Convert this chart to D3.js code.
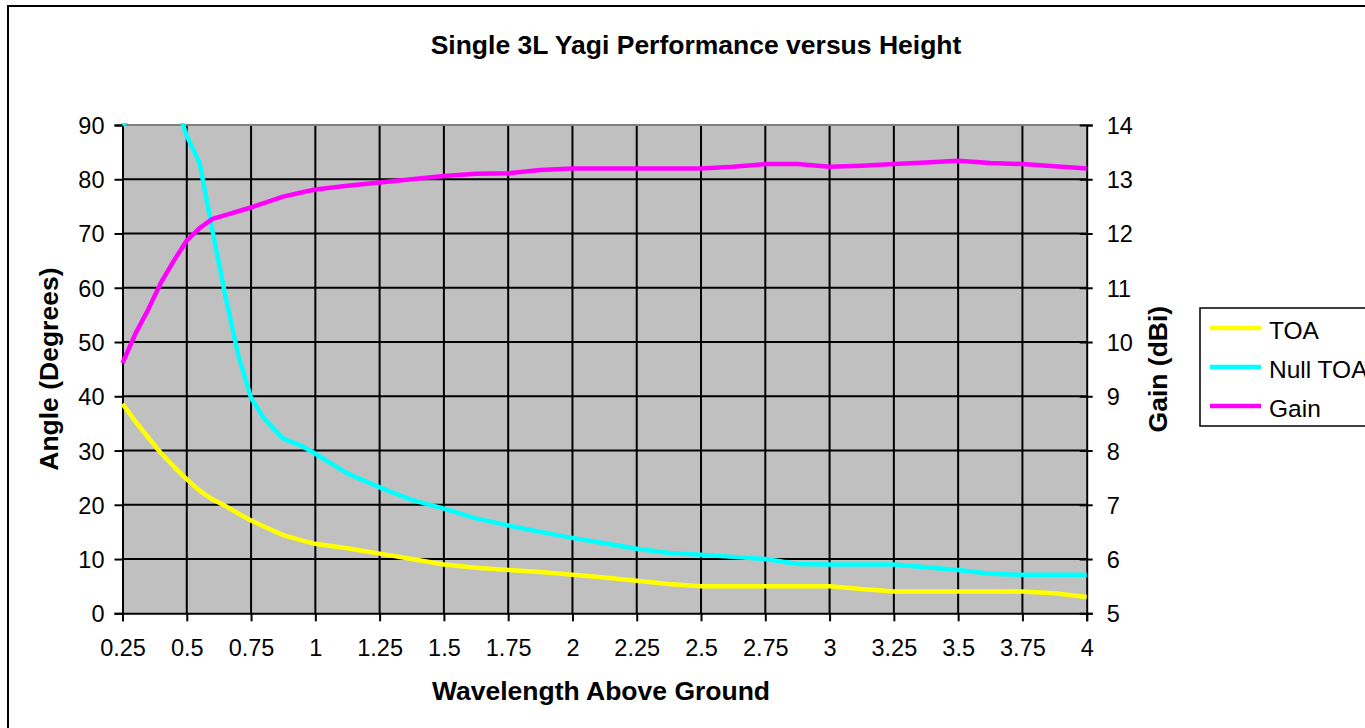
<!DOCTYPE html>
<html>
<head>
<meta charset="utf-8">
<script src="https://cdn.jsdelivr.net/npm/d3@7"></script>
<style>
  html, body { margin: 0; padding: 0; background: #fff; }
  svg { display: block; font-family: "Liberation Sans", Arial, sans-serif; }
</style>
</head>
<body>
<script>
// ---- data ----
const heights = [0.25, 0.3, 0.35, 0.4, 0.45, 0.5, 0.55, 0.6, 0.65, 0.7, 0.75, 0.8, 0.875, 0.95, 1.0,
  1.125, 1.25, 1.375, 1.5, 1.625, 1.75, 1.875, 2.0, 2.125, 2.25, 2.375, 2.5, 2.625, 2.75, 2.875,
  3.0, 3.125, 3.25, 3.375, 3.5, 3.625, 3.75, 3.875, 4.0];
const toa = [38.6, 35.4, 32.4, 29.5, 27.0, 24.7, 22.6, 21.0, 19.8, 18.4, 17.1, 16.0, 14.4, 13.4, 12.8,
  12.0, 11.0, 10.0, 9.0, 8.4, 8.0, 7.6, 7.1, 6.6, 6.0, 5.4, 5.0, 5.0, 5.0, 5.0,
  5.0, 4.5, 4.0, 4.0, 4.0, 4.0, 4.0, 3.7, 3.0];
const nullToa = [90, 92, 100, 100, 95, 88, 83, 70.5, 58.5, 47.6, 39.7, 35.9, 32.2, 30.8, 29.4,
  25.8, 23.2, 20.9, 19.3, 17.5, 16.2, 15.0, 13.9, 12.9, 11.9, 11.1, 10.8, 10.4, 10.0, 9.1,
  9.0, 9.0, 9.0, 8.5, 8.0, 7.3, 7.1, 7.1, 7.1];
const gain = [9.61, 10.15, 10.6, 11.1, 11.5, 11.87, 12.1, 12.27, 12.34, 12.41, 12.48, 12.56, 12.68, 12.76, 12.81,
  12.88, 12.94, 13.0, 13.06, 13.1, 13.11, 13.17, 13.2, 13.2, 13.2, 13.2, 13.2, 13.23, 13.28, 13.28,
  13.23, 13.25, 13.28, 13.31, 13.34, 13.3, 13.28, 13.24, 13.2];
const xTicks = [0.25, 0.5, 0.75, 1, 1.25, 1.5, 1.75, 2, 2.25, 2.5, 2.75, 3, 3.25, 3.5, 3.75, 4];
const leftTicks = [0, 10, 20, 30, 40, 50, 60, 70, 80, 90];
const rightTicks = [5, 6, 7, 8, 9, 10, 11, 12, 13, 14];
const seriesNames = ["TOA", "Null TOA", "Gain"];
const seriesColors = ["#FFFF00", "#00FFFF", "#FF00FF"];
const titleText = "Single 3L Yagi Performance versus Height";
const xTitle = "Wavelength Above Ground";
const yLeftTitle = "Angle (Degrees)";
const yRightTitle = "Gain (dBi)";

// ---- layout ----
const W = 1365, H = 728;
const plot = { left: 122.5, right: 1086.7, top: 125, bottom: 613.3 };

const svg = d3.select("body").append("svg").attr("width", W).attr("height", H);

// chart border
svg.append("rect").attr("x", 8).attr("y", 6).attr("width", 1400).attr("height", 760)
  .attr("fill", "#fff").attr("stroke", "#000").attr("stroke-width", 2);

const x = d3.scaleLinear().domain([0.25, 4]).range([plot.left, plot.right]);
const yL = d3.scaleLinear().domain([0, 90]).range([plot.bottom, plot.top]);
const yR = d3.scaleLinear().domain([5, 14]).range([plot.bottom, plot.top]);

// plot background
svg.append("rect").attr("x", plot.left).attr("y", plot.top)
  .attr("width", plot.right - plot.left).attr("height", plot.bottom - plot.top)
  .attr("fill", "#C0C0C0");

// gridlines
const grid = svg.append("g");
grid.selectAll("line.h").data(leftTicks.filter(d => d > 0 && d < 90)).enter().append("line")
  .attr("x1", plot.left).attr("x2", plot.right)
  .attr("y1", d => yL(d)).attr("y2", d => yL(d))
  .attr("stroke", "#000").attr("stroke-width", 2);
grid.selectAll("line.v").data(xTicks.filter(d => d > 0.25 && d < 4)).enter().append("line")
  .attr("y1", plot.top).attr("y2", plot.bottom)
  .attr("x1", d => x(d)).attr("x2", d => x(d))
  .attr("stroke", "#000").attr("stroke-width", 2);
// top border
svg.append("line").attr("x1", plot.left).attr("x2", plot.right)
  .attr("y1", plot.top).attr("y2", plot.top).attr("stroke", "#808080").attr("stroke-width", 2);

// axes
const fs = 23.5;
const axL = svg.append("g").attr("transform", `translate(${plot.left},0)`)
  .call(d3.axisLeft(yL).tickValues(leftTicks).tickSize(8).tickPadding(10).tickFormat(d3.format("d")));
const axR = svg.append("g").attr("transform", `translate(${plot.right},0)`)
  .call(d3.axisRight(yR).tickValues(rightTicks).tickSize(6).tickPadding(14).tickFormat(d3.format("d")));
axR.selectAll(".tick line").attr("x1", -7);
const axB = svg.append("g").attr("transform", `translate(0,${plot.bottom})`)
  .call(d3.axisBottom(x).tickValues(xTicks).tickSize(8).tickPadding(18).tickFormat(d => String(d)));
[axL, axR, axB].forEach(a => {
  a.select(".domain").attr("stroke", "#000").attr("stroke-width", 2);
  a.selectAll(".tick line").attr("stroke", "#000").attr("stroke-width", 2);
  a.selectAll(".tick text").attr("fill", "#000").style("font-size", fs + "px")
    .style("font-family", "'Liberation Sans', Arial, sans-serif");
});
axL.selectAll(".tick text").attr("dy", "0.36em");
axR.selectAll(".tick text").attr("dy", "0.36em");

// lines
svg.append("clipPath").attr("id", "clip").append("rect")
  .attr("x", plot.left - 3).attr("y", plot.top - 2)
  .attr("width", plot.right - plot.left + 6).attr("height", plot.bottom - plot.top + 4);
const lines = svg.append("g").attr("clip-path", "url(#clip)");
const series = [
  { vals: toa, scale: yL },
  { vals: nullToa, scale: yL },
  { vals: gain, scale: yR }
];
series.forEach((s, i) => {
  const gen = d3.line().x((d, j) => x(heights[j])).y(d => s.scale(d));
  lines.append("path").datum(s.vals).attr("d", gen)
    .attr("fill", "none").attr("stroke", seriesColors[i]).attr("stroke-width", 4.5)
    .attr("stroke-linejoin", "round");
});

// titles
const tfs = "26.5px";
svg.append("text").attr("x", 696).attr("y", 54).attr("text-anchor", "middle")
  .style("font-size", tfs).style("font-weight", "bold").text(titleText);
svg.append("text").attr("x", 601).attr("y", 700).attr("text-anchor", "middle")
  .style("font-size", tfs).style("font-weight", "bold").text(xTitle);
svg.append("text").attr("transform", `translate(58,${(plot.top + plot.bottom) / 2}) rotate(-90)`)
  .attr("text-anchor", "middle").style("font-size", tfs).style("font-weight", "bold").text(yLeftTitle);
svg.append("text").attr("transform", `translate(1167,${(plot.top + plot.bottom) / 2}) rotate(-90)`)
  .attr("text-anchor", "middle").style("font-size", tfs).style("font-weight", "bold").text(yRightTitle);

// legend
const lg = svg.append("g");
lg.append("rect").attr("x", 1200).attr("y", 308).attr("width", 220).attr("height", 118)
  .attr("fill", "#fff").attr("stroke", "#000").attr("stroke-width", 1.5);
seriesNames.forEach((n, i) => {
  const cy = 328 + i * 39;
  lg.append("line").attr("x1", 1210).attr("x2", 1261).attr("y1", cy).attr("y2", cy)
    .attr("stroke", seriesColors[i]).attr("stroke-width", 4.5);
  lg.append("text").attr("x", 1269).attr("y", cy + 11).style("font-size", "24.5px").text(n);
});
</script>
</body>
</html>
